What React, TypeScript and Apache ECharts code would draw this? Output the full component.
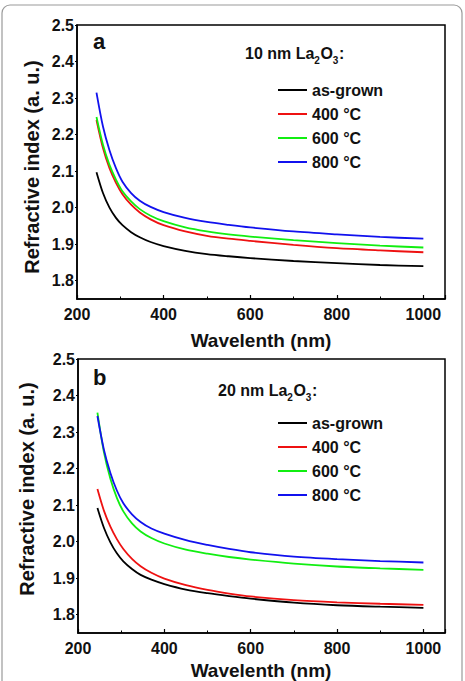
import React, { useEffect, useRef } from "react";
import * as echarts from "echarts";

const wavelengths = [245, 260, 275, 290, 305, 325, 345, 370, 400, 450, 500, 550, 600, 700, 800, 900, 1000];
const seriesNames = ["as-grown", "400 °C", "600 °C", "800 °C"];
const seriesColors = ["#000000", "#ee1111", "#11ee11", "#1111ee"];

// Panel a: 10 nm La2O3
const aAsGrown = [2.097, 2.040, 2.000, 1.972, 1.952, 1.933, 1.919, 1.906, 1.895, 1.882, 1.873, 1.867, 1.862, 1.854, 1.848, 1.843, 1.840];
const a400 = [2.240, 2.163, 2.108, 2.068, 2.037, 2.008, 1.987, 1.968, 1.952, 1.935, 1.923, 1.915, 1.909, 1.898, 1.889, 1.883, 1.878];
const a600 = [2.248, 2.172, 2.117, 2.077, 2.045, 2.017, 1.996, 1.978, 1.963, 1.946, 1.935, 1.927, 1.921, 1.911, 1.903, 1.896, 1.891];
const a800 = [2.315, 2.222, 2.157, 2.108, 2.071, 2.040, 2.019, 2.002, 1.988, 1.972, 1.961, 1.953, 1.946, 1.935, 1.927, 1.920, 1.915];

// Panel b: 20 nm La2O3
const bAsGrown = [2.092, 2.038, 1.998, 1.968, 1.946, 1.925, 1.909, 1.896, 1.884, 1.869, 1.859, 1.851, 1.844, 1.833, 1.826, 1.822, 1.819];
const b400 = [2.144, 2.085, 2.041, 2.007, 1.980, 1.953, 1.933, 1.915, 1.899, 1.881, 1.868, 1.858, 1.850, 1.840, 1.834, 1.830, 1.827];
const b600 = [2.353, 2.245, 2.172, 2.120, 2.083, 2.050, 2.028, 2.010, 1.995, 1.978, 1.967, 1.958, 1.951, 1.940, 1.932, 1.927, 1.923];
const b800 = [2.344, 2.252, 2.188, 2.140, 2.105, 2.075, 2.054, 2.036, 2.022, 2.004, 1.991, 1.980, 1.971, 1.959, 1.952, 1.947, 1.943];

const yTickValues = [1.8, 1.9, 2.0, 2.1, 2.2, 2.3, 2.4, 2.5];

const FONT = "'Liberation Sans', Arial, Helvetica, sans-serif";

function measure(text: string, size: number): number {
  const c = document.createElement("canvas").getContext("2d");
  if (!c) return text.length * size * 0.55;
  c.font = `bold ${size}px ${FONT}`;
  return c.measureText(text).width;
}

function formulaTitle(prefix: string, x: number, y: number) {
  const parts: { t: string; sub: boolean }[] = [
    { t: prefix + " nm La", sub: false },
    { t: "2", sub: true },
    { t: "O", sub: false },
    { t: "3", sub: true },
    { t: ":", sub: false },
  ];
  const children: any[] = [];
  let cx = 0;
  for (const p of parts) {
    const size = p.sub ? 10 : 16;
    children.push({
      type: "text",
      x: cx,
      y: p.sub ? 7 : 0,
      style: { text: p.t, fontFamily: FONT, fontWeight: "bold", fontSize: size, fill: "#111", verticalAlign: "middle" },
    });
    cx += measure(p.t, size) + (p.sub ? 0.5 : 0);
  }
  return { type: "group", x, y, children };
}

export default function App() {
  const ref = useRef<HTMLDivElement>(null);

  useEffect(() => {
    document.body.style.margin = "0";
    const chart = echarts.init(ref.current!, null, { renderer: "svg" });

    const xAxisBase = (gridIndex: number) => ({
      type: "value",
      gridIndex,
      min: 200,
      max: 1050,
      interval: 200,
      axisLine: { show: true, lineStyle: { color: "#000", width: 1.5 } },
      axisTick: { show: true, inside: true, length: 4, lineStyle: { color: "#000", width: 1.2 } },
      minorTick: { show: true, splitNumber: 2, length: 2.5, lineStyle: { color: "#000", width: 1 } },
      splitLine: { show: false },
      axisLabel: {
        showMaxLabel: false,
        margin: 7,
        color: "#111",
        fontFamily: FONT,
        fontWeight: "bold",
        fontSize: 16,
        formatter: (v: number) => String(Math.round(v)),
      },
    });

    const yAxisBase = (gridIndex: number) => ({
      type: "value",
      gridIndex,
      min: 1.75,
      max: 2.5,
      axisLine: { show: true, lineStyle: { color: "#000", width: 1.5 } },
      axisTick: { show: true, inside: false, length: 2, customValues: yTickValues, lineStyle: { color: "#000", width: 1.2 } },
      splitLine: { show: false },
      axisLabel: {
        customValues: yTickValues,
        margin: 3,
        color: "#111",
        fontFamily: FONT,
        fontWeight: "bold",
        fontSize: 16,
        formatter: (v: number) => v.toFixed(1),
      },
    });

    const mk = (name: string, color: string, vals: number[], idx: number) => ({
      type: "line",
      name,
      xAxisIndex: idx,
      yAxisIndex: idx,
      data: wavelengths.map((w, i) => [w, vals[i]]),
      smooth: 0.3,
      symbol: "none",
      lineStyle: { color, width: 1.8 },
      itemStyle: { color },
    });

    const aVals = [aAsGrown, a400, a600, a800];
    const bVals = [bAsGrown, b400, b600, b800];

    const legendBase = (top: number) => ({
      orient: "vertical",
      left: 278,
      top,
      padding: 0,
      itemWidth: 29,
      itemHeight: 2,
      itemGap: 8,
      icon: "rect",
      data: seriesNames,
      textStyle: { fontFamily: FONT, fontWeight: "bold", fontSize: 16, color: "#111" },
      selectedMode: false,
    });

    chart.setOption({
      animation: false,
      backgroundColor: "#ffffff",
      grid: [
        { left: 77, top: 25, width: 368, height: 274, show: true, borderColor: "#000", borderWidth: 1.5, backgroundColor: "transparent" },
        { left: 78, top: 359, width: 367, height: 274, show: true, borderColor: "#000", borderWidth: 1.5, backgroundColor: "transparent" },
      ],
      xAxis: [xAxisBase(0), xAxisBase(1)],
      yAxis: [yAxisBase(0), yAxisBase(1)],
      legend: [legendBase(82), legendBase(415)],
      series: [
        ...seriesNames.map((n, i) => mk(n, seriesColors[i], aVals[i], 0)),
        ...seriesNames.map((n, i) => mk(n, seriesColors[i], bVals[i], 1)),
      ],
      graphic: [
        {
          type: "rect",
          shape: { x: 2, y: 5, width: 460, height: 700, r: 8 },
          style: { fill: "none", stroke: "#9a9a9a", lineWidth: 1.2 },
          z: -1,
        },
        { type: "text", x: 93, y: 41, style: { text: "a", fontFamily: FONT, fontWeight: "bold", fontSize: 22, fill: "#111", verticalAlign: "middle" } },
        { type: "text", x: 93, y: 377, style: { text: "b", fontFamily: FONT, fontWeight: "bold", fontSize: 22, fill: "#111", verticalAlign: "middle" } },
        formulaTitle("10", 245, 53),
        formulaTitle("20", 218, 390),
        {
          type: "text",
          x: 261,
          y: 340,
          style: { text: "Wavelenth (nm)", fontFamily: FONT, fontWeight: "bold", fontSize: 19, fill: "#111", align: "center", verticalAlign: "middle" },
        },
        {
          type: "text",
          x: 261,
          y: 670,
          style: { text: "Wavelenth (nm)", fontFamily: FONT, fontWeight: "bold", fontSize: 19, fill: "#111", align: "center", verticalAlign: "middle" },
        },
        {
          type: "text",
          x: 32,
          y: 167,
          rotation: Math.PI / 2,
          style: { text: "Refractive index (a. u.)", fontFamily: FONT, fontWeight: "bold", fontSize: 20, fill: "#111", align: "center", verticalAlign: "middle" },
        },
        {
          type: "text",
          x: 27,
          y: 489,
          rotation: Math.PI / 2,
          style: { text: "Refractive index (a. u.)", fontFamily: FONT, fontWeight: "bold", fontSize: 20, fill: "#111", align: "center", verticalAlign: "middle" },
        },
      ],
    });

    return () => chart.dispose();
  }, []);

  return <div ref={ref} style={{ position: "absolute", left: 0, top: 0, width: 465, height: 681 }} />;
}
